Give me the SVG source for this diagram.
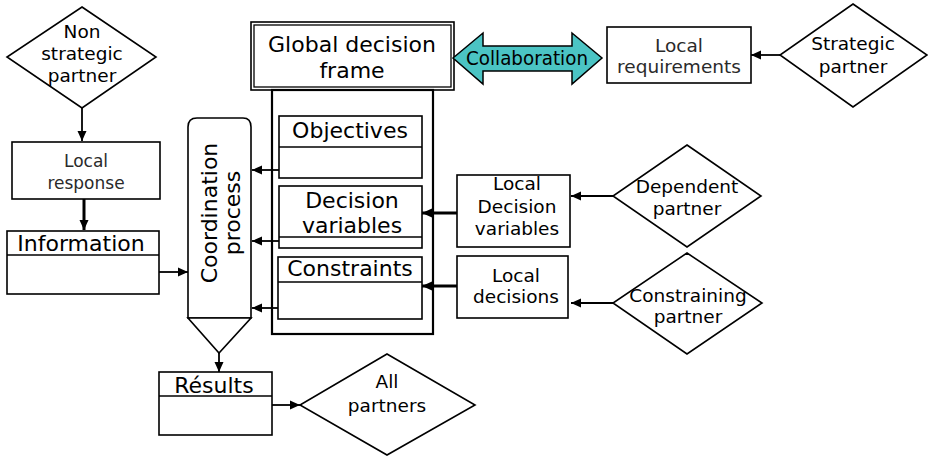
<svg xmlns="http://www.w3.org/2000/svg" width="928" height="456" viewBox="0 0 928 456">
<style>
.box{fill:#fff;stroke:#000;stroke-width:1.6}
.thin{fill:none;stroke:#000;stroke-width:1.3}
.t{font-family:"DejaVu Sans",Verdana,sans-serif;fill:#000;text-anchor:middle}
.s18{font-size:18.5px}
.s17{font-size:17px}
.s22{font-size:22px}
.grey{fill:#2a2a2a}
.conn{stroke:#000;stroke-width:1.8;fill:none}
.thick{stroke:#000;stroke-width:3;fill:none}
</style>
<defs>
<marker id="ah" markerUnits="userSpaceOnUse" markerWidth="10" markerHeight="10" refX="10" refY="5" orient="auto">
<path d="M0,0.5 L10,5 L0,9.5 z" fill="#000"/>
</marker>
</defs>
<rect width="928" height="456" fill="#fff"/>

<g id="connectors">
<line class="conn" x1="82" y1="108" x2="82" y2="141" marker-end="url(#ah)"/>
<line class="thick" x1="84" y1="199" x2="84" y2="230" marker-end="url(#ah)"/>
<line class="conn" x1="159" y1="272" x2="188" y2="272" marker-end="url(#ah)"/>
<line class="conn" x1="279" y1="170" x2="252" y2="170" marker-end="url(#ah)"/>
<line class="conn" x1="279" y1="241" x2="252" y2="241" marker-end="url(#ah)"/>
<line class="conn" x1="279" y1="308" x2="252" y2="308" marker-end="url(#ah)"/>
<line class="thick" x1="457" y1="213" x2="422" y2="213" marker-end="url(#ah)"/>
<line class="thick" x1="457" y1="286" x2="422" y2="286" marker-end="url(#ah)"/>
<line class="conn" x1="780" y1="55" x2="751" y2="55" marker-end="url(#ah)"/>
<line class="conn" x1="613" y1="196" x2="571" y2="196" marker-end="url(#ah)"/>
<line class="conn" x1="613" y1="303" x2="571" y2="303" marker-end="url(#ah)"/>
<line class="conn" x1="219" y1="353" x2="219" y2="372" marker-end="url(#ah)"/>
<line class="conn" x1="272" y1="405" x2="300" y2="405" marker-end="url(#ah)"/>
</g>

<g id="non-strategic-partner">
<polygon class="box" points="82,7 156,57 82,108 7,57"/>
<text class="t s18" x="82" y="38">Non</text>
<text class="t s18" x="82" y="60">strategic</text>
<text class="t s18" x="82" y="82">partner</text>
</g>

<g id="local-response">
<rect class="box" x="12" y="142" width="148" height="57"/>
<text class="t s17 grey" x="86" y="167">Local</text>
<text class="t s17 grey" x="86" y="189">response</text>
</g>

<g id="information">
<rect class="box" x="7" y="231" width="152" height="63"/>
<line class="thin" x1="7" y1="255" x2="159" y2="255"/>
<text class="t s22" x="81" y="251">Information</text>
</g>

<g id="coordination-process">
<path class="box" d="M188,127 Q188,118 197,118 L243,118 Q251,118 251,127 L251,318 L188,318 Z"/>
<polygon class="box" points="188,318 251,318 219,353"/>
<text class="t s22" transform="translate(217,213) rotate(-90)" x="0" y="0">Coordination</text>
<text class="t s22" transform="translate(240,213) rotate(-90)" x="0" y="0">process</text>
</g>

<g id="global-decision-frame">
<rect class="box" x="251" y="22" width="203" height="68"/>
<rect class="thin" x="254" y="25" width="197" height="62"/>
<text class="t s22" x="352" y="52">Global decision</text>
<text class="t s22" x="352" y="78">frame</text>
</g>

<g id="frame-body">
<rect x="272" y="90" width="161" height="244" fill="none" stroke="#000" stroke-width="2.2"/>
</g>

<g id="objectives">
<rect class="box" x="279" y="116" width="143" height="62"/>
<line class="thin" x1="279" y1="147" x2="422" y2="147"/>
<text class="t s22" x="350" y="138">Objectives</text>
</g>

<g id="decision-variables">
<rect class="box" x="279" y="186" width="143" height="62"/>
<line class="thin" x1="279" y1="237" x2="422" y2="237"/>
<text class="t s22" x="352" y="208">Decision</text>
<text class="t s22" x="352" y="233">variables</text>
</g>

<g id="constraints">
<rect class="box" x="278" y="257" width="144" height="62"/>
<line class="thin" x1="278" y1="282" x2="422" y2="282"/>
<text class="t s22" x="350" y="276">Constraints</text>
</g>

<g id="collaboration">
<polygon points="453,58 483,33 483,46 572,46 572,33 602,58 572,84 572,71 483,71 483,84" fill="#4BC4C4" stroke="#000" stroke-width="1.5"/>
<text class="t" font-size="19.5" x="527" y="65" textLength="122" lengthAdjust="spacingAndGlyphs">Collaboration</text>
</g>

<g id="local-requirements">
<rect class="box" x="607" y="27" width="144" height="56"/>
<text class="t s18 grey" x="679" y="52">Local</text>
<text class="t s18 grey" x="679" y="73">requirements</text>
</g>

<g id="strategic-partner">
<polygon class="box" points="853,4 927,55 853,107 780,55"/>
<text class="t s18" x="853" y="50">Strategic</text>
<text class="t s18" x="853" y="73">partner</text>
</g>

<g id="local-decision-variables">
<rect class="box" x="457" y="175" width="113" height="72"/>
<text class="t s18" x="517" y="190">Local</text>
<text class="t s18" x="517" y="213">Decision</text>
<text class="t s18" x="517" y="235">variables</text>
</g>

<g id="dependent-partner">
<polygon class="box" points="687,145 761,196 687,247 613,196"/>
<text class="t s18" x="687" y="193">Dependent</text>
<text class="t s18" x="687" y="215">partner</text>
</g>

<g id="local-decisions">
<rect class="box" x="457" y="256" width="111" height="62"/>
<text class="t s18" x="516" y="282">Local</text>
<text class="t s18" x="516" y="303">decisions</text>
</g>

<g id="constraining-partner">
<polygon class="box" points="687,253 762,303 687,354 613,303"/>
<text class="t s18" x="688" y="302">Constraining</text>
<text class="t s18" x="688" y="323">partner</text>
</g>

<g id="results">
<rect class="box" x="159" y="372" width="113" height="63"/>
<line class="thin" x1="159" y1="396" x2="272" y2="396"/>
<text class="t s22" x="214" y="393">Résults</text>
</g>

<g id="all-partners">
<polygon class="box" points="387,354 475,405 387,455 300,405"/>
<text class="t s18" x="387" y="388">All</text>
<text class="t s18" x="387" y="412">partners</text>
</g>
</svg>
